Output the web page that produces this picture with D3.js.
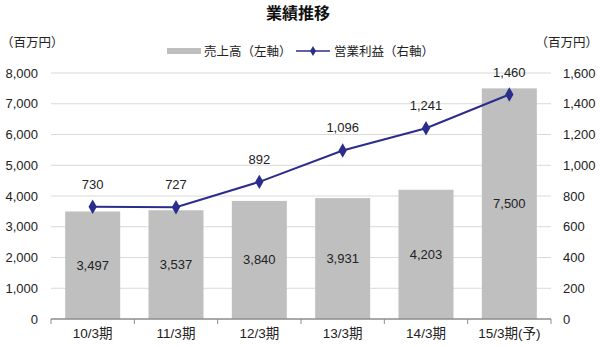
<!DOCTYPE html>
<html>
<head>
<meta charset="utf-8">
<script src="https://cdnjs.cloudflare.com/ajax/libs/d3/7.8.5/d3.min.js"></script>
<style>
  body { margin: 0; background: #fff; }
  svg { display: block; font-family: "Liberation Sans", "Noto Sans CJK JP", sans-serif; }
</style>
</head>
<body>
<svg id="chart" width="600" height="347" viewBox="0 0 600 347"></svg>
<script>
// data
const categories = ["10/3期", "11/3期", "12/3期", "13/3期", "14/3期", "15/3期(予)"];
const sales = [3497, 3537, 3840, 3931, 4203, 7500];      // 売上高 (left axis)
const profit = [730, 727, 892, 1096, 1241, 1460];        // 営業利益 (right axis)
const leftTicks = [0, 1000, 2000, 3000, 4000, 5000, 6000, 7000, 8000];
const rightTicks = [0, 200, 400, 600, 800, 1000, 1200, 1400, 1600];

const margin = { top: 73, right: 49, bottom: 28, left: 51 };
const width = 600, height = 347;
const innerWidth = width - margin.left - margin.right;
const innerHeight = height - margin.top - margin.bottom;

const fmt = d3.format(",");
const svg = d3.select("#chart");
const lineColor = "#2b2d8c";
const cjk = "'Noto Sans CJK JP', sans-serif";
const mid = 4.5; // baseline shift so 13px text centres on its y

// scales in page coordinates
const xScale = d3.scaleBand().domain(categories)
  .range([margin.left, width - margin.right]).paddingInner(0.34).paddingOuter(0.17);
const yLeft = d3.scaleLinear().domain([0, 8000]).range([height - margin.bottom, margin.top]);
const yRight = d3.scaleLinear().domain([0, 1600]).range([height - margin.bottom, margin.top]);
const cx = (i) => xScale(categories[i]) + xScale.bandwidth() / 2;
const y0 = yLeft(0);

// gridlines
svg.append("g").selectAll("line")
  .data(leftTicks.slice(1))
  .enter()
  .append("line")
  .attr("x1", margin.left)
  .attr("x2", width - margin.right)
  .attr("y1", (d) => yLeft(d))
  .attr("y2", (d) => yLeft(d))
  .attr("stroke", "#d9d9d9")
  .attr("stroke-width", 1);

// bars
svg.append("g").selectAll("rect")
  .data(sales)
  .enter()
  .append("rect")
  .attr("x", (d, i) => xScale(categories[i]))
  .attr("width", xScale.bandwidth())
  .attr("y", (d) => yLeft(d))
  .attr("height", (d) => y0 - yLeft(d))
  .attr("fill", "#bfbfbf");

// bar labels (middle of bar)
svg.append("g").selectAll("text")
  .data(sales)
  .enter()
  .append("text")
  .attr("x", (d, i) => cx(i))
  .attr("y", (d) => (yLeft(d) + y0) / 2 + mid)
  .attr("text-anchor", "middle")
  .attr("font-size", "13px")
  .attr("fill", "#222")
  .text((d) => fmt(d));

// x axis
const xAxis = svg.append("g");
xAxis.append("line")
  .attr("x1", margin.left).attr("x2", width - margin.right)
  .attr("y1", y0).attr("y2", y0)
  .attr("stroke", "#8c8c8c").attr("stroke-width", 1.5);
const step = innerWidth / categories.length;
xAxis.selectAll("line.tk")
  .data(d3.range(categories.length + 1))
  .enter()
  .append("line")
  .attr("class", "tk")
  .attr("x1", (d) => margin.left + d * step).attr("x2", (d) => margin.left + d * step)
  .attr("y1", y0).attr("y2", y0 + 5)
  .attr("stroke", "#8c8c8c");
xAxis.selectAll("text")
  .data(categories)
  .enter()
  .append("text")
  .attr("x", (d, i) => cx(i))
  .attr("y", y0 + 19)
  .attr("text-anchor", "middle")
  .attr("font-size", "13.5px")
  .attr("fill", "#222")
  .text((d) => d);

// left axis labels
svg.append("g").selectAll("text")
  .data(leftTicks)
  .enter()
  .append("text")
  .attr("x", margin.left - 13)
  .attr("y", (d) => yLeft(d) + mid)
  .attr("text-anchor", "end")
  .attr("font-size", "13px")
  .attr("fill", "#222")
  .text((d) => fmt(d));

// right axis labels
svg.append("g").selectAll("text")
  .data(rightTicks)
  .enter()
  .append("text")
  .attr("x", width - margin.right + 12)
  .attr("y", (d) => yRight(d) + mid)
  .attr("text-anchor", "start")
  .attr("font-size", "13px")
  .attr("fill", "#222")
  .text((d) => fmt(d));

// profit line
const valueline = d3.line()
  .x((d, i) => cx(i))
  .y((d) => yRight(d));

svg.append("path")
  .datum(profit)
  .attr("d", valueline)
  .attr("fill", "none")
  .attr("stroke", lineColor)
  .attr("stroke-width", 2);

const diamond = d3.symbol().type(d3.symbolDiamond).size(60);
svg.append("g").selectAll("path")
  .data(profit)
  .enter()
  .append("path")
  .attr("d", diamond)
  .attr("transform", (d, i) => `translate(${cx(i)},${yRight(d)})`)
  .attr("fill", lineColor);

svg.append("g").selectAll("text")
  .data(profit)
  .enter()
  .append("text")
  .attr("x", (d, i) => cx(i))
  .attr("y", (d) => yRight(d) - 18)
  .attr("text-anchor", "middle")
  .attr("font-size", "13px")
  .attr("fill", "#222")
  .text((d) => fmt(d));

// title
svg.append("text")
  .attr("x", 298)
  .attr("y", 19)
  .attr("text-anchor", "middle")
  .attr("font-size", "16px")
  .attr("font-weight", "bold")
  .attr("fill", "#111")
  .style("font-family", cjk)
  .text("業績推移");

// unit labels
svg.append("text").attr("x", 1).attr("y", 47).attr("font-size", "12.5px").attr("fill", "#222")
  .style("font-family", cjk).text("（百万円）");
svg.append("text").attr("x", 598).attr("y", 47).attr("text-anchor", "end").attr("font-size", "12.5px").attr("fill", "#222")
  .style("font-family", cjk).text("（百万円）");

// legend
const legend = svg.append("g").attr("transform", "translate(0,51)")
  .style("font-family", cjk);
legend.append("rect").attr("x", 167).attr("y", -3).attr("width", 34).attr("height", 6).attr("fill", "#bfbfbf");
legend.append("text").attr("x", 204).attr("y", 4.5).attr("font-size", "12.5px").attr("fill", "#222").text("売上高（左軸）");
legend.append("line").attr("x1", 296).attr("x2", 330).attr("y1", 0).attr("y2", 0).attr("stroke", lineColor).attr("stroke-width", 1.5);
legend.append("path").attr("d", d3.symbol().type(d3.symbolDiamond).size(30)).attr("transform", "translate(313,0)").attr("fill", lineColor);
legend.append("text").attr("x", 334).attr("y", 4.5).attr("font-size", "12.5px").attr("fill", "#222").text("営業利益（右軸）");
</script>
</body>
</html>
